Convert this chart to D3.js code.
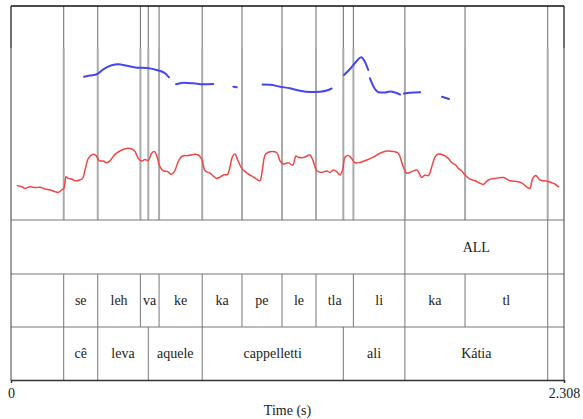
<!DOCTYPE html>
<html>
<head>
<meta charset="utf-8">
<script src="https://cdn.jsdelivr.net/npm/d3@7"></script>
<style>
  html, body { margin: 0; padding: 0; background: #fff; }
  svg { display: block; }
</style>
</head>
<body>
<svg id="chart" width="583" height="419"></svg>
<script>
// ---- data ---------------------------------------------------------------
const duration = 2.308;

// Pitch track (Hz); null breaks the contour at unvoiced stretches
const pitchTime = [0.305, 0.330, 0.358, 0.385, 0.420, 0.448, 0.483, 0.525, 0.566, 0.608, 0.643, 0.659, null,
  0.689, 0.719, 0.761, 0.803, 0.844, null,
  0.928, 0.942, null,
  1.050, 1.081, 1.123, 1.164, 1.206, 1.248, 1.290, 1.324, 1.338, null,
  1.390, 1.415, 1.443, 1.461, 1.477, 1.491, null,
  1.498, 1.519, 1.540, 1.561, 1.582, 1.603, 1.624, null,
  1.640, 1.665, 1.708, null,
  1.799, 1.828];
const pitchHz = [361.6, 364, 366.4, 376.4, 384.4, 386.4, 383.6, 379.6, 379, 375, 368.4, 360.4, null,
  346.4, 349.6, 348.4, 346.4, 347, null,
  341.6, 340.4, null,
  346, 345.6, 341.6, 338.4, 333.4, 331, 331.6, 335, 338, null,
  365, 377, 393, 400.4, 391.6, 375, null,
  358.4, 337, 330, 330, 332, 330, 326, null,
  328, 329.6, 330.4, null,
  321.6, 317];

// Intensity track (dB)
const intensityTime = [0.024, 0.045, 0.058, 0.079, 0.100, 0.121, 0.142, 0.163, 0.184, 0.197, 0.216, 0.222,
  0.230, 0.239, 0.253, 0.267, 0.288, 0.299, 0.309, 0.323, 0.341, 0.355, 0.369, 0.385, 0.399, 0.413,
  0.434, 0.462, 0.483, 0.504, 0.518, 0.531, 0.545, 0.559, 0.573, 0.587, 0.598, 0.608, 0.622, 0.636,
  0.654, 0.668, 0.682, 0.698, 0.715, 0.740, 0.761, 0.782, 0.796, 0.810, 0.831, 0.844, 0.858, 0.872,
  0.886, 0.904, 0.914, 0.924, 0.935, 0.946, 0.963, 0.977, 0.997, 1.011, 1.025, 1.039, 1.049, 1.063,
  1.088, 1.109, 1.123, 1.136, 1.157, 1.176, 1.189, 1.199, 1.220, 1.248, 1.262, 1.276, 1.297, 1.318,
  1.331, 1.345, 1.359, 1.373, 1.384, 1.394, 1.408, 1.422, 1.436, 1.457, 1.485, 1.512, 1.540, 1.568,
  1.596, 1.616, 1.637, 1.652, 1.672, 1.693, 1.700, 1.714, 1.728, 1.742, 1.756, 1.770, 1.783, 1.804,
  1.825, 1.842, 1.856, 1.867, 1.881, 1.895, 1.916, 1.937, 1.957, 1.971, 1.992, 2.020, 2.055, 2.083,
  2.111, 2.131, 2.152, 2.166, 2.176, 2.190, 2.208, 2.236, 2.257, 2.270, 2.287];
const intensityDb = [53.6, 53.3, 52.9, 53.3, 53.1, 53.2, 52.75, 52.5, 52.1, 51.9, 52.7, 53.1,
  55.8, 55.4, 55.25, 54.8, 55, 55.4, 57.5, 60.4, 61.4, 61.1, 59.8, 59.75, 59.3, 59.8,
  61.4, 62.5, 62.9, 62.75, 62.1, 60.4, 59.75, 60.1, 59.9, 61.7, 62.1, 61.1, 58.3, 57.3,
  57.1, 56.4, 57.1, 59.6, 61, 61.1, 61.4, 61.25, 60.2, 57.3, 56.7, 56, 55.4, 55.7,
  56.25, 56.4, 58.3, 60.8, 61.5, 60, 57.9, 57.1, 56.25, 55.8, 55.2, 54.8, 57.5, 61.5,
  62.1, 61.8, 59.8, 59, 59.3, 58.75, 61, 60.7, 60.6, 61.25, 59.6, 57.3, 56.9, 57.25,
  56.9, 57.5, 57.1, 56.25, 57.5, 60.7, 61.1, 60.4, 59.3, 59.4, 60, 60.7, 61.7, 62.25,
  62.1, 61.7, 58.3, 56.7, 57.1, 57.5, 57.1, 55.6, 56.25, 56.1, 58.3, 60.8, 61.5, 61.25,
  60.4, 59.2, 58.75, 57.9, 57.25, 56.25, 55.2, 54.8, 54.2, 53.9, 55, 55.4, 55.6, 54.8,
  54.6, 54.3, 53.3, 52.9, 55.2, 56.1, 55, 54.75, 54.3, 54, 53.2];

// Text grid tiers: interval boundaries (s) and interval labels
const tier1Bounds = [0, 1.644, 2.240, 2.308];
const tier1Labels = ["", "ALL", ""];
const tier2Bounds = [0, 0.220, 0.362, 0.540, 0.618, 0.798, 0.964, 1.131, 1.273, 1.429, 1.644, 1.895, 2.240, 2.308];
const tier2Labels = ["", "se", "leh", "va", "ke", "ka", "pe", "le", "tla", "li", "ka", "tl", ""];
const tier3Bounds = [0, 0.220, 0.362, 0.573, 0.798, 1.387, 1.644, 2.240, 2.308];
const tier3Labels = ["", "cê", "leva", "aquele", "cappelletti", "ali", "Kátia", ""];

const axisTicks = [0, 2.308];
const axisTickLabels = ["0", "2.308"];
const axisTitle = "Time (s)";

// ---- layout -------------------------------------------------------------
const plotLeft = 11, plotRight = 564;
const panelTop = 6, darkEnd = 48, panelBottom = 220;
const tierEdges = [220, 274, 327, 380];
const serif = "'Liberation Serif', 'DejaVu Serif', 'Times New Roman', serif";

const svg = d3.select("#chart");

const x = d3.scaleLinear().domain([0, duration]).range([plotLeft, plotRight]);
const yPitch = d3.scaleLinear().domain([75, 503]).range([panelBottom, panelTop]);
const yInt = d3.scaleLinear().domain([45, 98.5]).range([panelBottom, panelTop]);

const tiers = [
  { bounds: tier1Bounds, labels: tier1Labels },
  { bounds: tier2Bounds, labels: tier2Labels },
  { bounds: tier3Bounds, labels: tier3Labels }
];

// interval boundaries shared by all tiers, drawn through the signal panel
const inner = Array.from(new Set(
  tiers.flatMap(t => t.bounds.slice(1, -1))
)).sort((a, b) => a - b);

const grid = svg.append("g");
grid.selectAll(null).data(inner).join("line")
  .attr("x1", d => x(d)).attr("x2", d => x(d))
  .attr("y1", panelTop).attr("y2", darkEnd)
  .attr("stroke", "#6a6a6a").attr("stroke-width", 1);
grid.selectAll(null).data(inner).join("line")
  .attr("x1", d => x(d)).attr("x2", d => x(d))
  .attr("y1", darkEnd).attr("y2", panelBottom)
  .attr("stroke", "#aaaaaa").attr("stroke-width", 2);

// panel frame
grid.append("line").attr("x1", plotLeft).attr("x2", plotRight).attr("y1", panelTop).attr("y2", panelTop)
  .attr("stroke", "#111").attr("stroke-width", 1.5);
[plotLeft, plotRight].forEach(px => {
  grid.append("line").attr("x1", px).attr("x2", px).attr("y1", panelTop).attr("y2", darkEnd)
    .attr("stroke", "#222").attr("stroke-width", 1.3);
  grid.append("line").attr("x1", px).attr("x2", px).attr("y1", darkEnd).attr("y2", panelBottom)
    .attr("stroke", "#999").attr("stroke-width", 2);
});

// intensity contour
const intensityPts = intensityTime.map((t, i) => [t, intensityDb[i]]);
svg.append("path")
  .datum(intensityPts)
  .attr("fill", "none")
  .attr("stroke", "rgb(240,70,70)")
  .attr("stroke-width", 1.5)
  .attr("stroke-linejoin", "round")
  .attr("d", d3.line().x(d => x(d[0])).y(d => yInt(d[1])).curve(d3.curveCatmullRom.alpha(0.5)));

// pitch contour
const pitchPts = pitchTime.map((t, i) => [t, pitchHz[i]]);
svg.append("path")
  .datum(pitchPts)
  .attr("fill", "none")
  .attr("stroke", "rgb(70,70,240)")
  .attr("stroke-width", 2)
  .attr("stroke-linecap", "round")
  .attr("d", d3.line().defined(d => d[0] !== null && d[1] !== null)
    .x(d => x(d[0])).y(d => yPitch(d[1])).curve(d3.curveMonotoneX));

// text grid
const tg = svg.append("g");
tierEdges.slice(0, 3).forEach(yy => {
  tg.append("line").attr("x1", plotLeft).attr("x2", plotRight).attr("y1", yy).attr("y2", yy)
    .attr("stroke", "#777").attr("stroke-width", 1);
});
tiers.forEach((tier, k) => {
  const y0 = tierEdges[k], y1 = tierEdges[k + 1];
  tg.selectAll(null).data(tier.bounds).join("line")
    .attr("x1", d => x(d)).attr("x2", d => x(d))
    .attr("y1", y0).attr("y2", y1)
    .attr("stroke", (d, i) => (i === 0 || i === tier.bounds.length - 1) ? "#444" : "#777")
    .attr("stroke-width", 1);
  const intervals = tier.labels.map((lab, i) => ({ a: tier.bounds[i], b: tier.bounds[i + 1], lab }));
  tg.selectAll(null).data(intervals.filter(d => d.lab)).join("text")
    .attr("x", d => (x(d.a) + x(d.b)) / 2)
    .attr("y", (y0 + y1) / 2)
    .attr("text-anchor", "middle")
    .attr("dominant-baseline", "central")
    .style("font-family", serif)
    .style("font-size", "14px")
    .style("fill", "#222")
    .text(d => d.lab);
});

// time axis
const axis = svg.append("g")
  .attr("transform", `translate(0,${tierEdges[3]})`)
  .call(d3.axisBottom(x).tickValues(axisTicks).tickSize(3).tickPadding(5)
    .tickFormat((d, i) => axisTickLabels[i]));
axis.select(".domain").attr("stroke", "#333").attr("stroke-width", 1.5);
axis.selectAll(".tick line").attr("stroke", "#333");
axis.selectAll("text")
  .style("font-family", serif)
  .style("font-size", "14px")
  .style("fill", "#222");

svg.append("text")
  .attr("x", (plotLeft + plotRight) / 2)
  .attr("y", 410)
  .attr("text-anchor", "middle")
  .attr("dominant-baseline", "central")
  .style("font-family", serif)
  .style("font-size", "14px")
  .style("fill", "#222")
  .text(axisTitle);
</script>
</body>
</html>
